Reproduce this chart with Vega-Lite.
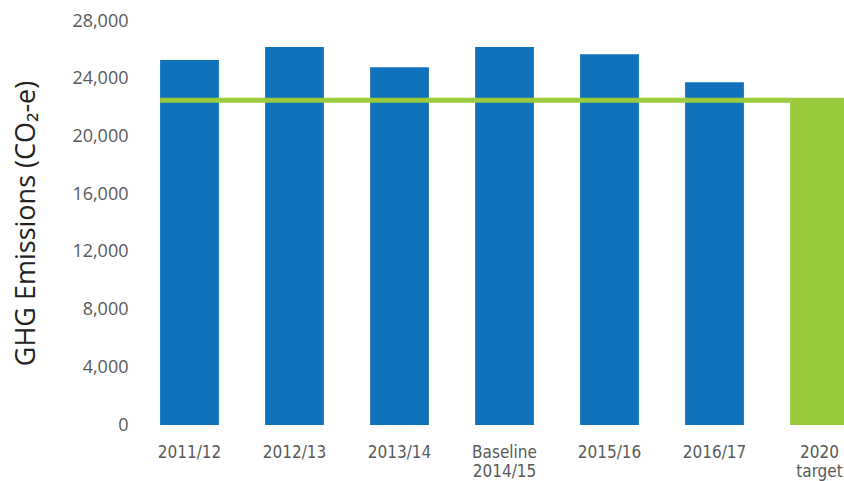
{
  "$schema": "https://vega.github.io/schema/vega-lite/v6.json",
  "autosize": "none",
  "padding": {"left": 137, "top": 21, "right": 0, "bottom": 56},
  "width": 735,
  "height": 404,
  "background": "white",
  "config": {"view": {"stroke": null}, "font": "Open Sans"},
  "data": {"values": [
    {"period": "2011/12", "value": 25300, "kind": "actual", "target": 22500},
    {"period": "2012/13", "value": 26200, "kind": "actual", "target": 22500},
    {"period": "2013/14", "value": 24800, "kind": "actual", "target": 22500},
    {"period": "Baseline 2014/15", "value": 26200, "kind": "actual", "target": 22500},
    {"period": "2015/16", "value": 25700, "kind": "actual", "target": 22500},
    {"period": "2016/17", "value": 23750, "kind": "actual", "target": 22500},
    {"period": "2020 target", "value": 22680, "kind": "target", "target": 22500}
  ]},
  "encoding": {
    "x": {
      "field": "period", "type": "nominal", "sort": null,
      "scale": {"paddingInner": 0.44, "paddingOuter": 0.22},
      "axis": {
        "title": null, "domain": false, "ticks": false, "labelAngle": 0,
        "labelFontSize": 17, "labelColor": "#595959", "labelPadding": 19,
        "labelExpr": "split(datum.label, ' ')", "labelLineHeight": 19,
        "labelFont": "DejaVu Sans Condensed"
      }
    }
  },
  "layer": [
    {
      "mark": {"type": "bar"},
      "encoding": {
        "y": {
          "field": "value", "type": "quantitative",
          "scale": {"domain": [0, 28000]},
          "axis": {
            "values": [0, 4000, 8000, 12000, 16000, 20000, 24000, 28000],
            "format": ",.0f", "domain": false, "ticks": false, "grid": false,
            "labelFontSize": 18, "labelColor": "#595959", "labelPadding": 9,
            "title": "GHG Emissions (CO₂-e)", "titleFontSize": 27,
            "titleFontWeight": "normal", "titleColor": "#222222", "titlePadding": 31
          }
        },
        "color": {
          "field": "kind", "type": "nominal",
          "scale": {"domain": ["actual", "target"], "range": ["#1072BA", "#9ACB3C"]},
          "legend": null
        }
      }
    },
    {
      "mark": {"type": "line", "color": "#9ACB3C", "strokeWidth": 5, "strokeCap": "butt"},
      "encoding": {
        "x": {"field": "period", "type": "nominal", "sort": null, "bandPosition": 0},
        "y": {"field": "target", "type": "quantitative"}
      }
    }
  ]
}
